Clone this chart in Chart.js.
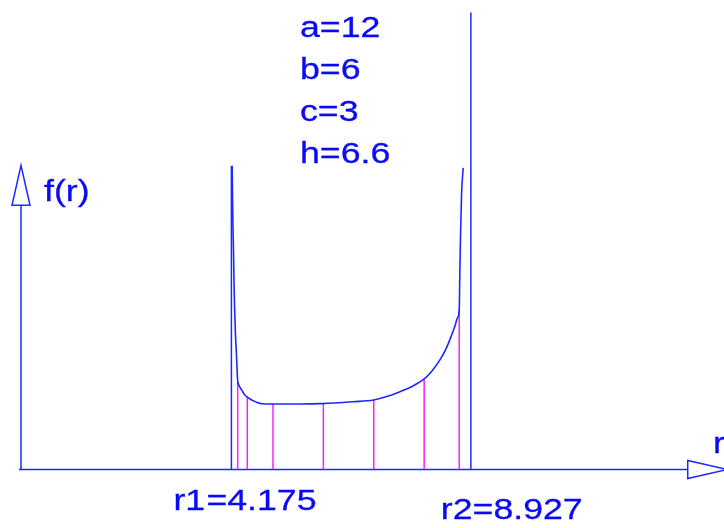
<!DOCTYPE html>
<html>
<head>
<meta charset="utf-8">
<script src="https://cdn.jsdelivr.net/npm/chart.js@4.4.1/dist/chart.umd.min.js"></script>
<style>
    html, body { margin: 0; padding: 0; background: #ffffff; }
    canvas { display: block; }
</style>
</head>
<body>
<canvas id="density-chart" width="724" height="528"></canvas>
<script>
// f(r) sampled along r between the two roots r1 and r2
const curveR = [4.190, 4.198, 4.206, 4.216, 4.226, 4.236, 4.256, 4.276, 4.290, 4.300,
    4.315, 4.345, 4.379, 4.425, 4.478, 4.544, 4.609, 4.683, 4.776, 4.980, 5.536, 5.972,
    6.587, 6.998, 7.321, 7.520, 7.758, 8.002, 8.155, 8.313, 8.433, 8.532, 8.611, 8.661,
    8.696, 8.706, 8.722, 8.742, 8.774];
const curveF = [4.598, 4.083, 3.674, 3.326, 2.871, 2.523, 2.038, 1.735, 1.477, 1.341,
    1.295, 1.242, 1.205, 1.144, 1.103, 1.068, 1.042, 1.015, 0.995, 0.992, 0.992, 0.998,
    1.027, 1.053, 1.121, 1.179, 1.258, 1.371, 1.492, 1.659, 1.826, 2.008, 2.174, 2.295,
    2.417, 2.871, 3.553, 4.159, 4.568];

// roots and the height of the boundary lines drawn at them
const r1 = 4.175;
const r2 = 8.927;
const r1Height = 4.6;
const r2Height = 6.92;

// sample stations (magenta ordinates)
const stationR = [4.300, 4.49, 5.0, 6.0, 7.0, 8.0, 8.696];
const stationF = [1.33, 1.098, 0.992, 0.998, 1.053, 1.371, 2.417];

const paramLabels = ['a=12', 'b=6', 'c=3', 'h=6.6'];

const BLUE = 'rgb(28, 40, 255)';
const TEXT_BLUE = 'rgb(10, 10, 245)';
const MAGENTA = 'rgb(255, 30, 255)';

const curveData = curveR.map((r, i) => ({ x: r, y: curveF[i] }));

const stationSets = stationR.map((r, i) => ({
    data: [{ x: r, y: 0 }, { x: r, y: stationF[i] }],
    borderColor: MAGENTA,
    borderWidth: 1.5,
    pointRadius: 0
}));

// draws the wide text used for every label on the sheet
function stretchText(ctx, text, x, y, size) {
    ctx.save();
    ctx.translate(x, y);
    ctx.scale(1.23, 1);
    ctx.font = size + 'px "Liberation Sans", Arial, sans-serif';
    ctx.fillText(text, 0, 0);
    ctx.strokeText(text, 0, 0);
    ctx.restore();
}

// axes with open arrow heads, plus the text labels
const axesPlugin = {
    id: 'axesArrows',
    beforeDatasetsDraw(chart) {
        const { ctx } = chart;
        const xs = chart.scales.x;
        const ys = chart.scales.y;
        const x0 = xs.getPixelForValue(0);
        const y0 = ys.getPixelForValue(0);
        const yTop = ys.getPixelForValue(4.0);
        const xEnd = xs.getPixelForValue(13.23);
        const headLen = 40;
        const headHalf = 9;

        ctx.save();
        ctx.strokeStyle = BLUE;
        ctx.lineWidth = 1.5;
        ctx.fillStyle = '#ffffff';

        ctx.beginPath();
        ctx.moveTo(x0 - 2, y0);
        ctx.lineTo(xEnd, y0);
        ctx.moveTo(x0, y0);
        ctx.lineTo(x0, yTop);
        ctx.stroke();

        // f(r) arrow head
        ctx.beginPath();
        ctx.moveTo(x0 - headHalf, yTop);
        ctx.lineTo(x0 + headHalf, yTop);
        ctx.lineTo(x0, yTop - headLen);
        ctx.closePath();
        ctx.fill();
        ctx.stroke();

        // r arrow head
        ctx.beginPath();
        ctx.moveTo(xEnd, y0 - headHalf);
        ctx.lineTo(xEnd, y0 + headHalf);
        ctx.lineTo(xEnd + headLen, y0);
        ctx.closePath();
        ctx.fill();
        ctx.stroke();
        ctx.restore();
    },
    afterDraw(chart) {
        const { ctx } = chart;
        const xs = chart.scales.x;
        ctx.save();
        ctx.fillStyle = TEXT_BLUE;
        ctx.strokeStyle = TEXT_BLUE;
        ctx.lineWidth = 0.3;
        ctx.textBaseline = 'alphabetic';

        paramLabels.forEach((t, i) => stretchText(ctx, t, 300, 37 + i * 42, 29));

        stretchText(ctx, 'f(r)', 44, 201, 29);
        stretchText(ctx, 'r', 713, 453, 29);

        const r1x = xs.getPixelForValue(r1);
        const r2x = xs.getPixelForValue(r2);
        stretchText(ctx, 'r1', r1x - 58, 510, 29);
        stretchText(ctx, '=' + r1.toFixed(3), r1x - 58 + 33, 510, 29);
        stretchText(ctx, 'r2=' + r2.toFixed(3), r2x - 30, 519, 29);
        ctx.restore();
    }
};

new Chart(document.getElementById('density-chart'), {
    type: 'line',
    data: {
        datasets: [
            {
                data: curveData,
                borderColor: BLUE,
                borderWidth: 1.6,
                pointRadius: 0,
                cubicInterpolationMode: 'monotone'
            },
            {
                data: [{ x: r1, y: 0 }, { x: r1, y: r1Height }],
                borderColor: BLUE,
                borderWidth: 1.5,
                pointRadius: 0
            },
            {
                data: [{ x: r2, y: 0 }, { x: r2, y: r2Height }],
                borderColor: BLUE,
                borderWidth: 1.5,
                pointRadius: 0
            },
            ...stationSets
        ]
    },
    options: {
        responsive: false,
        animation: false,
        layout: { padding: { left: 21, right: 0, top: 0, bottom: 58.5 } },
        scales: {
            x: { type: 'linear', min: 0, max: 13.95, display: false },
            y: { type: 'linear', min: 0, max: 7.11, display: false }
        },
        plugins: {
            legend: { display: false },
            tooltip: { enabled: false }
        }
    },
    plugins: [axesPlugin]
});
</script>
</body>
</html>
